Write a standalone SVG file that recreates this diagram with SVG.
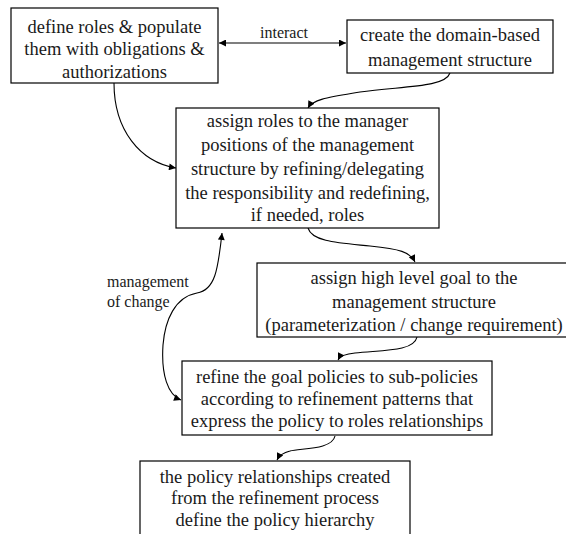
<svg xmlns="http://www.w3.org/2000/svg" width="566" height="534" viewBox="0 0 566 534">
  <defs>
    <marker id="arrow" viewBox="0 0 10 10" refX="10" refY="5" markerWidth="8" markerHeight="7" markerUnits="userSpaceOnUse" orient="auto-start-reverse">
      <path d="M0,0 L10,5 L0,10 z" fill="#000"/>
    </marker>
    <style>
      .box { fill: #fff; stroke: #000; stroke-width: 1.2; }
      .txt { font-family: 'Liberation Serif', 'Times New Roman', serif; font-size: 18.5px; fill: #1a1a1a; text-anchor: middle; }
      .lbl { font-family: 'Liberation Serif', 'Times New Roman', serif; font-size: 16px; fill: #1a1a1a; }
      .edge { fill: none; stroke: #000; stroke-width: 1.1; }
    </style>
  </defs>

  <rect width="566" height="534" fill="#fff"/>

  <g id="connectors">
    <path class="edge" d="M219,43 L346,43" marker-start="url(#arrow)" marker-end="url(#arrow)"/>
    <path class="edge" d="M114,83 C114,130 140,162 176,168" marker-end="url(#arrow)"/>
    <path class="edge" d="M450,73 C445,88 400,86 360,92 C330,97 313,99 308,108" marker-end="url(#arrow)"/>
    <path class="edge" d="M308,228 C312,242 340,243 370,246 C400,249 410,252 415,262" marker-end="url(#arrow)"/>
    <path class="edge" d="M417,337 C414,352 380,350 355,353 C345,354 340,356 338,360" marker-end="url(#arrow)"/>
    <path class="edge" d="M335,436 C332,450 300,448 290,451 C282,453 279,456 277,460" marker-end="url(#arrow)"/>
    <path class="edge" d="M222,233 C218,270 215,290 197,293 C175,297 165,320 163,345 C161,375 168,395 181,400" marker-start="url(#arrow)" marker-end="url(#arrow)"/>
    <text class="lbl" x="260" y="38">interact</text>
    <text class="lbl" x="107" y="287">management</text>
    <text class="lbl" x="107" y="307">of change</text>
  </g>

  <g id="define-roles">
    <rect class="box" x="11" y="8" width="207" height="75"/>
    <text class="txt" x="114.5" y="32.5">define roles &amp; populate</text>
    <text class="txt" x="114.5" y="55">them with obligations &amp;</text>
    <text class="txt" x="114.5" y="77.5">authorizations</text>
  </g>

  <g id="create-structure">
    <rect class="box" x="347" y="20" width="206" height="53"/>
    <text class="txt" x="450" y="40.5">create the domain-based</text>
    <text class="txt" x="450" y="65.5">management structure</text>
  </g>

  <g id="assign-roles">
    <rect class="box" x="176" y="108" width="263" height="120"/>
    <text class="txt" x="307.5" y="126.5">assign roles to the manager</text>
    <text class="txt" x="307.5" y="150.5">positions of the management</text>
    <text class="txt" x="307.5" y="174.5">structure by refining/delegating</text>
    <text class="txt" x="307.5" y="198.5">the responsibility and redefining,</text>
    <text class="txt" x="307.5" y="221">if needed, roles</text>
  </g>

  <g id="assign-goal">
    <rect class="box" x="257" y="263" width="314" height="74"/>
    <text class="txt" x="414" y="283.5">assign high level goal to the</text>
    <text class="txt" x="414" y="307.5">management structure</text>
    <text class="txt" x="414" y="330.5">(parameterization / change requirement)</text>
  </g>

  <g id="refine-goal">
    <rect class="box" x="182" y="361" width="310" height="74"/>
    <text class="txt" x="337" y="383">refine the goal policies to sub-policies</text>
    <text class="txt" x="337" y="405">according to refinement patterns that</text>
    <text class="txt" x="337" y="427">express the policy to roles relationships</text>
  </g>

  <g id="policy-hierarchy">
    <rect class="box" x="140" y="461" width="270" height="90"/>
    <text class="txt" x="275" y="482.5">the policy relationships created</text>
    <text class="txt" x="275" y="503.5">from the refinement process</text>
    <text class="txt" x="275" y="525.5">define the policy hierarchy</text>
  </g>
</svg>
